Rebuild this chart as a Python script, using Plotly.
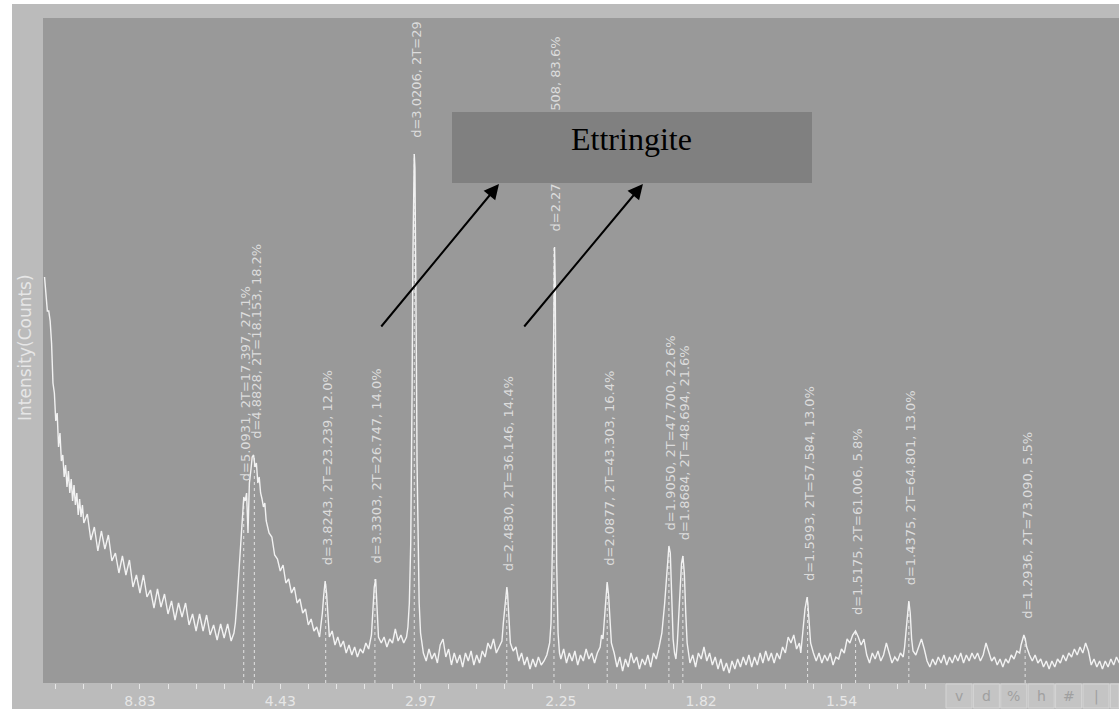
import plotly.graph_objects as go

# ---------------- data ----------------
two_theta = [
    3.2, 3.3, 3.4, 3.5, 3.6, 3.7, 3.8, 3.9, 4.0, 4.1, 4.2, 4.3, 4.4, 4.5, 4.6, 4.7, 4.8, 4.9,
    5.0, 5.1, 5.2, 5.3, 5.4, 5.5, 5.6, 5.7, 5.8, 5.9, 6.0, 6.25, 6.5, 6.75, 7.0, 7.25, 7.5, 7.75,
    8.0, 8.25, 8.5, 8.75, 9.0, 9.25, 9.5, 9.75, 10.0, 10.25, 10.5, 10.75, 11.0, 11.25, 11.5, 11.75,
    12.0, 12.25, 12.5, 12.75, 13.0, 13.25, 13.5, 13.75, 14.0, 14.25, 14.5, 14.75, 15.0, 15.25,
    15.5, 15.75, 16.0, 16.25, 16.5, 16.7, 16.8, 16.9, 17.0, 17.1, 17.2, 17.3, 17.4, 17.5, 17.6,
    17.7, 17.8, 17.9, 18.0, 18.1, 18.2, 18.3, 18.4, 18.5, 18.6, 18.7, 18.8, 18.9, 19.0, 19.2,
    19.4, 19.6, 19.8, 20.0, 20.2, 20.4, 20.6, 20.8, 21.0, 21.2, 21.4, 21.6, 21.8, 22.0, 22.2,
    22.4, 22.6, 22.8, 22.9, 23.0, 23.1, 23.2, 23.3, 23.4, 23.5, 23.7, 23.9, 24.1, 24.3, 24.5,
    24.7, 24.9, 25.1, 25.3, 25.5, 25.7, 25.9, 26.1, 26.3, 26.5, 26.6, 26.7, 26.8, 26.9, 27.0,
    27.2, 27.4, 27.6, 27.8, 28.0, 28.2, 28.4, 28.6, 28.8, 29.0, 29.1, 29.2, 29.3, 29.35, 29.4,
    29.45, 29.5, 29.55, 29.6, 29.65, 29.7, 29.75, 29.8, 29.9, 30.0, 30.2, 30.4, 30.6, 30.8,
    31.0, 31.2, 31.4, 31.6, 31.8, 32.0, 32.2, 32.4, 32.6, 32.8, 33.0, 33.2, 33.4, 33.6, 33.8,
    34.0, 34.2, 34.4, 34.6, 34.8, 35.0, 35.2, 35.4, 35.6, 35.8, 35.9, 36.0, 36.1, 36.15, 36.2,
    36.3, 36.4, 36.6, 36.8, 37.0, 37.2, 37.4, 37.6, 37.8, 38.0, 38.2, 38.4, 38.6, 38.8, 39.0,
    39.2, 39.3, 39.4, 39.45, 39.5, 39.55, 39.6, 39.65, 39.7, 39.8, 39.9, 40.0, 40.2, 40.4, 40.6,
    40.8, 41.0, 41.2, 41.4, 41.6, 41.8, 42.0, 42.2, 42.4, 42.6, 42.8, 42.9, 43.0, 43.1, 43.2,
    43.3, 43.4, 43.5, 43.6, 43.8, 44.0, 44.2, 44.4, 44.6, 44.8, 45.0, 45.2, 45.4, 45.6, 45.8,
    46.0, 46.2, 46.4, 46.6, 46.8, 47.0, 47.2, 47.4, 47.5, 47.6, 47.7, 47.8, 47.9, 48.0, 48.1,
    48.2, 48.3, 48.4, 48.5, 48.6, 48.7, 48.8, 48.9, 49.0, 49.2, 49.4, 49.6, 49.8, 50.0, 50.2,
    50.4, 50.6, 50.8, 51.0, 51.2, 51.4, 51.6, 51.8, 52.0, 52.2, 52.4, 52.6, 52.8, 53.0, 53.2,
    53.4, 53.6, 53.8, 54.0, 54.2, 54.4, 54.6, 54.8, 55.0, 55.2, 55.4, 55.6, 55.8, 56.0, 56.2,
    56.4, 56.6, 56.8, 57.0, 57.1, 57.2, 57.3, 57.4, 57.5, 57.55, 57.6, 57.7, 57.8, 58.0, 58.2,
    58.4, 58.6, 58.8, 59.0, 59.2, 59.4, 59.6, 59.8, 60.0, 60.2, 60.4, 60.6, 60.8, 61.0, 61.2,
    61.4, 61.6, 61.8, 62.0, 62.2, 62.4, 62.6, 62.8, 63.0, 63.2, 63.4, 63.6, 63.8, 64.0, 64.2,
    64.4, 64.5, 64.6, 64.7, 64.8, 64.9, 65.0, 65.1, 65.3, 65.5, 65.7, 65.9, 66.1, 66.3, 66.5,
    66.7, 66.9, 67.1, 67.3, 67.5, 67.7, 67.9, 68.1, 68.3, 68.5, 68.7, 68.9, 69.1, 69.3, 69.5,
    69.7, 69.9, 70.1, 70.3, 70.5, 70.7, 70.9, 71.1, 71.3, 71.5, 71.7, 71.9, 72.1, 72.3, 72.5,
    72.7, 72.8, 72.9, 73.0, 73.1, 73.2, 73.4, 73.6, 73.8, 74.0, 74.2, 74.4, 74.6, 74.8, 75.0,
    75.2, 75.4, 75.6, 75.8, 76.0, 76.2, 76.4, 76.6, 76.8, 77.0, 77.2, 77.4, 77.6, 77.8, 78.0,
    78.2, 78.4, 78.6, 78.8, 79.0, 79.2, 79.4, 79.6, 79.8,
]
counts = [
    406, 385, 372, 372, 362, 340, 300, 290, 262, 270, 236, 250, 222, 228, 206, 218, 196, 212,
    190, 204, 182, 198, 178, 190, 168, 184, 166, 178, 160, 169, 143, 156, 132, 152, 134, 148,
    122, 130, 110, 127, 108, 123, 96, 108, 90, 108, 86, 93, 75, 94, 76, 89,
    69, 82, 63, 80, 66, 80, 58, 69, 52, 69, 52, 68, 48, 58,
    43, 59, 45, 59, 42, 50, 60, 78, 100, 125, 150, 170, 186, 182, 190,
    150, 200, 212, 226, 228, 216, 220, 200, 206, 190, 184, 176, 180, 162, 150,
    146, 128, 124, 112, 118, 100, 104, 90, 96, 80, 84, 70, 74, 58, 64,
    52, 56, 46, 56, 70, 88, 102, 90, 62, 46, 52, 38, 46, 36, 42,
    30, 38, 28, 36, 26, 34, 30, 40, 34, 48, 70, 96, 104, 74, 46,
    40, 46, 36, 44, 40, 54, 42, 48, 40, 46, 56, 80, 140, 200, 300,
    420, 500, 529, 515, 450, 330, 220, 150, 80, 50, 30, 22, 34, 24,
    30, 20, 38, 44, 26, 34, 18, 30, 20, 28, 16, 30, 22, 32, 18,
    28, 20, 32, 26, 40, 34, 44, 30, 36, 42, 60, 78, 92, 96, 90,
    60, 40, 32, 36, 22, 30, 18, 26, 14, 24, 16, 26, 18, 22, 28,
    40, 60, 140, 300, 430, 436, 400, 250, 120, 50, 30, 24, 34, 20, 30,
    22, 32, 18, 28, 22, 34, 24, 30, 20, 30, 36, 48, 44, 64, 90,
    101, 88, 56, 40, 30, 16, 26, 12, 24, 16, 30, 20, 26, 14, 24,
    18, 28, 16, 30, 24, 36, 50, 80, 100, 122, 137, 130, 80, 44, 30,
    24, 40, 70, 100, 120, 127, 110, 70, 40, 20, 28, 16, 30, 24, 36,
    22, 30, 18, 26, 14, 24, 12, 20, 10, 22, 14, 24, 16, 26, 18,
    28, 16, 26, 18, 30, 20, 32, 22, 30, 20, 30, 24, 36, 30, 46,
    40, 48, 34, 40, 30, 46, 60, 74, 82, 86, 80, 60, 40, 30, 22,
    30, 20, 28, 22, 30, 18, 26, 24, 34, 30, 44, 40, 48, 52, 46,
    38, 44, 28, 20, 30, 24, 32, 22, 28, 40, 30, 20, 26, 22, 30,
    26, 36, 50, 70, 82, 70, 44, 32, 28, 36, 44, 34, 22, 16, 24,
    18, 26, 20, 28, 18, 26, 20, 28, 22, 30, 20, 28, 22, 30, 24,
    30, 22, 28, 40, 32, 22, 26, 18, 24, 16, 24, 20, 28, 24, 32,
    30, 38, 44, 48, 44, 36, 28, 22, 28, 20, 24, 16, 22, 14, 22,
    16, 24, 20, 28, 22, 30, 26, 34, 28, 36, 30, 40, 32, 18, 24,
    16, 22, 14, 22, 16, 24, 18, 26, 20,
]

peak_2t = [17.397, 18.153, 23.239, 26.747, 29.552, 36.146, 39.508, 43.303,
           47.700, 48.694, 57.584, 61.006, 64.801, 73.090]
peak_top = [186, 228, 102, 104, 529, 96, 436, 101, 137, 127, 86, 52, 82, 48]
peak_labels = [
    "d=5.0931, 2T=17.397, 27.1%",
    "d=4.8828, 2T=18.153, 18.2%",
    "d=3.8243, 2T=23.239, 12.0%",
    "d=3.3303, 2T=26.747, 14.0%",
    "d=3.0206, 2T=29",
    "d=2.4830, 2T=36.146, 14.4%",
    "d=2.2791, 2T=39.508, 83.6%",
    "d=2.0877, 2T=43.303, 16.4%",
    "d=1.9050, 2T=47.700, 22.6%",
    "d=1.8684, 2T=48.694, 21.6%",
    "d=1.5993, 2T=57.584, 13.0%",
    "d=1.5175, 2T=61.006, 5.8%",
    "d=1.4375, 2T=64.801, 13.0%",
    "d=1.2936, 2T=73.090, 5.5%",
]

tick_2t = [10, 20, 30, 40, 50, 60]
tick_d = ["8.83", "4.43", "2.97", "2.25", "1.82", "1.54"]
button_labels = ["v", "d", "%", "h", "#", "|", ""]

# ---------------- layout constants ----------------
W, H = 1119, 709
ML, MR, MT, MB = 43, 0, 18, 26
PW, PH = W - ML - MR, H - MT - MB
X_RANGE = [3.09, 79.78]
Y_RANGE = [0, 665]

PLOT_BG = "#999999"
FRAME = "#bbbbbb"
LIGHT = "#e6e6e6"
FONT = "DejaVu Sans"


def px_to_paper_x(px):
    return (px - ML) / PW


def px_to_paper_y(py):
    return (H - MB - py) / PH


fig = go.Figure()

# dashed peak markers
dx, dy = [], []
for p, h in zip(peak_2t, peak_top):
    dx += [p, p, None]
    dy += [0, h, None]
fig.add_trace(go.Scatter(x=dx, y=dy, mode="lines",
                         line=dict(color="#e2e2e2", width=1, dash="3px,3px"),
                         hoverinfo="skip"))

# pattern
fig.add_trace(go.Scatter(x=two_theta, y=counts, mode="lines",
                         line=dict(color="#f2f2f2", width=1.4),
                         hoverinfo="skip"))

annotations = []
for p, h, t in zip(peak_2t, peak_top, peak_labels):
    annotations.append(dict(
        x=p, y=h, xref="x", yref="y", text=t, textangle=-90, showarrow=False,
        xanchor="center", yanchor="bottom", yshift=14, xshift=2,
        font=dict(family=FONT, size=13, color="#dcdcdc")))

# Ettringite box (covers the middle of one label, like the original)
box_cx = 10 + (632 - 140) / 14.03
box_cy = 683 - 147.5
annotations.append(dict(
    x=box_cx, y=box_cy, xref="x", yref="y", text=" ", showarrow=False,
    width=360, height=71, bgcolor="#808080", borderpad=0, borderwidth=0,
    xanchor="center", yanchor="middle", font=dict(size=10)))
annotations.append(dict(
    x=box_cx, y=box_cy, xref="x", yref="y", text="Ettringite", showarrow=False,
    xanchor="center", yanchor="middle", yshift=9,
    font=dict(family="Liberation Serif", size=32, color="#000000")))

# arrows
arrow_tips = [(35.59, 499), (45.85, 499)]
arrow_tails = [(27.11, 355), (37.30, 355)]
for (tx, ty), (sx, sy) in zip(arrow_tips, arrow_tails):
    annotations.append(dict(
        x=tx, y=ty, ax=sx, ay=sy, xref="x", yref="y", axref="x", ayref="y",
        text="", showarrow=True, arrowhead=2, arrowsize=1.5, arrowwidth=2,
        arrowcolor="#000000", standoff=0, startstandoff=0))

# y title
annotations.append(dict(
    x=px_to_paper_x(25), y=px_to_paper_y(348), xref="paper", yref="paper",
    text="Intensity(Counts)", textangle=-90, showarrow=False,
    xanchor="center", yanchor="middle",
    font=dict(family=FONT, size=17, color=LIGHT)))

shapes = [
    # white strips outside the light frame
    dict(type="rect", xref="paper", yref="paper", x0=px_to_paper_x(0), x1=px_to_paper_x(12),
         y0=px_to_paper_y(H), y1=px_to_paper_y(0), fillcolor="#ffffff", line_width=0, layer="below"),
    dict(type="rect", xref="paper", yref="paper", x0=px_to_paper_x(0), x1=px_to_paper_x(W),
         y0=px_to_paper_y(4), y1=px_to_paper_y(0), fillcolor="#ffffff", line_width=0, layer="below"),
]

# buttons at the lower right
for i, b in enumerate(button_labels):
    x0 = 946 + i * 27.4
    x1 = min(x0 + 26, W)
    shapes.append(dict(type="rect", xref="paper", yref="paper",
                       x0=px_to_paper_x(x0), x1=px_to_paper_x(x1),
                       y0=px_to_paper_y(708), y1=px_to_paper_y(684),
                       fillcolor="#c4c4c4", line=dict(color="#d4d4d4", width=1), layer="above"))
    if b:
        annotations.append(dict(
            x=px_to_paper_x((x0 + x1) / 2), y=px_to_paper_y(696), xref="paper", yref="paper",
            text=b, showarrow=False, xanchor="center", yanchor="middle",
            font=dict(family=FONT, size=14, color="#a0a0a0")))

fig.update_layout(
    width=W, height=H,
    margin=dict(l=ML, r=MR, t=MT, b=MB, pad=0),
    paper_bgcolor=FRAME, plot_bgcolor=PLOT_BG,
    showlegend=False, hovermode=False,
    xaxis=dict(range=X_RANGE, tickmode="array", tickvals=tick_2t, ticktext=tick_d,
               ticks="outside", ticklen=5, tickwidth=1, tickcolor=LIGHT,
               showgrid=False, zeroline=False, showline=False, fixedrange=True,
               tickfont=dict(family=FONT, size=14, color=LIGHT),
               minor=dict(tickmode="linear", tick0=0, dtick=2, ticks="outside",
                          ticklen=5, tickwidth=1, tickcolor=LIGHT, showgrid=False)),
    yaxis=dict(range=Y_RANGE, showticklabels=False, ticks="", showgrid=False,
               zeroline=False, showline=False, fixedrange=True),
    annotations=annotations,
    shapes=shapes,
)

fig.write_html(
    "out.html",
    config={"displayModeBar": False},
    post_script="document.body.style.margin='0';document.body.style.padding='0';",
)
